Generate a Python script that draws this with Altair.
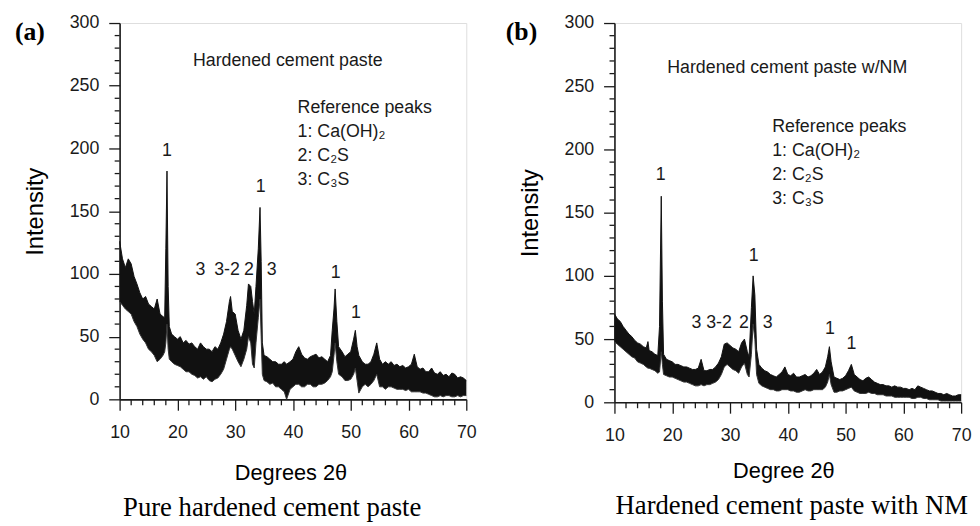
import altair as alt
import pandas as pd

# ---------------- Panel (a): pure hardened cement paste ----------------
A_X = [10.0, 10.5, 11.0, 11.5, 12.0, 12.5, 13.0, 13.5, 14.0, 14.5, 15.0, 15.5, 16.0, 16.5, 17.0, 17.5, 17.8,
       18.0, 18.2, 18.4, 18.6, 19.0, 19.5, 20.0, 20.5, 21.0, 21.5, 22.0, 22.5, 23.0, 23.5, 24.0, 24.5, 25.0,
       25.5, 26.0, 26.5, 27.0, 27.5, 28.0, 28.5, 29.0, 29.2, 29.5, 30.0, 30.5, 31.0, 31.5, 32.0, 32.3, 32.7,
       33.0, 33.3, 33.6, 34.0, 34.3, 34.5, 34.7, 35.0, 35.5, 36.0, 36.5, 37.0, 37.5, 38.0, 38.5, 38.9, 39.5,
       40.0, 40.5, 41.0, 41.5, 42.0, 42.5, 43.0, 43.5, 44.0, 44.5, 45.0, 45.5, 46.0, 46.5, 46.8, 47.1, 47.3,
       47.6, 47.9, 48.5, 49.0, 49.5, 50.0, 50.5, 50.8, 51.1, 51.4, 52.0, 52.5, 53.0, 53.5, 54.0, 54.5, 55.0,
       55.5, 56.0, 56.5, 57.0, 57.5, 58.0, 58.5, 59.0, 59.5, 60.0, 60.5, 61.0, 61.5, 62.0, 62.5, 63.0, 63.5,
       64.0, 64.5, 65.0, 65.5, 66.0, 66.5, 67.0, 67.5, 68.0, 68.5, 69.0, 69.5, 70.0]
A_LO = [78, 75, 72, 70, 68, 62, 58, 52, 48, 45, 40, 38, 35, 30, 32, 35, 38,
        45, 60, 40, 32, 30, 28, 27, 26, 24, 22, 22, 20, 19, 17, 18, 16, 18,
        15, 14, 16, 17, 20, 24, 32, 40, 42, 40, 35, 30, 26, 32, 40, 50, 45,
        28, 25, 45, 65, 80, 50, 20, 15, 14, 12, 13, 10, 10, 8, 6, 0, 8,
        10, 12, 12, 10, 10, 12, 12, 10, 10, 12, 12, 13, 15, 18, 22, 35, 45,
        30, 20, 18, 15, 15, 16, 20, 25, 15, 5, 10, 12, 10, 12, 15, 20, 10,
        10, 8, 10, 10, 9, 8, 8, 8, 7, 8, 6, 6, 6, 6, 5, 5, 4,
        3, 2, 2, 3, 2, 3, 3, 2, 2, 3, 2, 3, 3]
A_HI = [126, 112, 105, 112, 108, 98, 92, 85, 80, 82, 76, 74, 72, 80, 68, 66, 65,
        120, 182, 90, 58, 52, 50, 48, 50, 45, 47, 44, 45, 42, 40, 45, 42, 40,
        40, 38, 42, 40, 45, 52, 62, 78, 82, 70, 68, 55, 48, 55, 75, 92, 90,
        78, 68, 90, 120, 153, 110, 45, 35, 34, 32, 30, 30, 28, 28, 30, 28, 30,
        32, 38, 42, 36, 33, 32, 34, 35, 36, 33, 34, 32, 30, 35, 55, 72, 88,
        62, 42, 38, 34, 36, 38, 48, 55, 42, 35, 30, 28, 28, 30, 36, 45, 32,
        28, 30, 28, 30, 27, 28, 26, 27, 25, 26, 28, 36, 26, 24, 25, 22, 22,
        25, 21, 20, 22, 19, 20, 18, 21, 20, 17, 18, 17, 15]

# ---------------- Panel (b): hardened cement paste with NM ----------------
B_X = [10.0, 10.5, 11.0, 11.5, 12.0, 12.5, 13.0, 13.5, 14.0, 14.5, 15.0, 15.5, 15.8, 16.0, 16.5, 17.0, 17.5,
       17.8, 18.1, 18.3, 18.5, 19.0, 19.5, 20.0, 20.5, 21.0, 21.5, 22.0, 22.5, 23.0, 23.5, 24.0, 24.5, 25.0,
       25.5, 26.0, 26.5, 27.0, 27.5, 28.0, 28.5, 29.0, 29.5, 30.0, 30.5, 31.0, 31.5, 32.0, 32.5, 33.0, 33.3,
       33.7, 34.0, 34.3, 34.6, 35.0, 35.5, 36.0, 36.5, 37.0, 37.5, 38.0, 38.5, 39.0, 39.5, 40.0, 40.5, 41.0,
       41.5, 42.0, 42.5, 43.0, 43.5, 44.0, 44.5, 45.0, 45.5, 46.0, 46.5, 46.9, 47.2, 47.5, 48.0, 48.5, 49.0,
       49.5, 50.0, 50.5, 51.0, 51.5, 52.0, 52.5, 53.0, 53.5, 54.0, 54.5, 55.0, 55.5, 56.0, 56.5, 57.0, 57.5,
       58.0, 58.5, 59.0, 59.5, 60.0, 60.5, 61.0, 61.5, 62.0, 62.5, 63.0, 63.5, 64.0, 64.5, 65.0, 65.5, 66.0,
       66.5, 67.0, 67.5, 68.0, 68.5, 69.0, 69.5, 70.0]
B_LO = [48, 46, 44, 42, 40, 38, 36, 35, 32, 31, 30, 28, 27, 27, 26, 25, 23,
        24, 40, 30, 22, 21, 20, 20, 19, 18, 17, 16, 16, 15, 14, 13, 13, 14,
        13, 14, 14, 15, 16, 18, 22, 28, 30, 28, 26, 25, 23, 28, 31, 22, 20,
        38, 62, 50, 22, 15, 13, 12, 11, 10, 10, 9, 9, 10, 10, 10, 9, 9,
        8, 8, 9, 10, 9, 9, 10, 10, 10, 10, 12, 16, 22, 14, 8, 8, 9,
        9, 10, 11, 12, 9, 8, 7, 7, 7, 8, 7, 7, 6, 6, 6, 5, 5,
        5, 4, 4, 4, 4, 4, 4, 3, 3, 4, 4, 3, 3, 2, 2, 2, 2,
        1, 1, 1, 1, 1, 1, 1, 1]
B_HI = [70, 66, 64, 60, 57, 54, 52, 49, 47, 46, 44, 43, 48, 41, 40, 38, 37,
        60, 163, 80, 38, 34, 33, 32, 30, 30, 29, 28, 28, 27, 26, 26, 27, 34,
        25, 25, 26, 26, 28, 31, 36, 46, 47, 45, 43, 42, 40, 47, 50, 40, 36,
        75, 100, 85, 42, 30, 27, 25, 24, 22, 21, 20, 22, 24, 28, 22, 21, 23,
        20, 20, 21, 22, 20, 21, 23, 26, 22, 24, 28, 36, 44, 32, 20, 19, 18,
        19, 21, 25, 30, 22, 20, 18, 17, 19, 20, 18, 16, 15, 14, 14, 13, 13,
        12, 13, 12, 12, 11, 11, 10, 11, 10, 13, 12, 11, 10, 9, 9, 8, 7,
        7, 6, 7, 6, 5, 5, 6, 6]

# peak labels (text, x position in degrees, y position in intensity units)
A_PEAK_TEXT = ["1", "1", "3", "3-2", "2", "3", "1", "1"]
A_PEAK_X = [18.2, 34.4, 24.0, 28.6, 32.4, 36.3, 47.4, 50.9]
A_PEAK_Y = [198, 169, 103, 103, 103, 103, 101, 69]

B_PEAK_TEXT = ["1", "1", "3", "3-2", "2", "3", "1", "1"]
B_PEAK_X = [18.0, 34.1, 24.2, 28.1, 32.4, 36.5, 47.3, 51.0]
B_PEAK_Y = [180, 116, 63, 63, 63, 63, 58, 46]

REF_LINES = ["Reference peaks", "1: Ca(OH)\u2082", "2: C\u2082S", "3: C\u2083S"]
A_REF_X = 40.8
A_REF_Y = [232, 213, 194, 175]
B_REF_X = 37.3
B_REF_Y = [218, 199, 180, 161]

A_HEADER = "Hardened cement paste"
A_HEADER_POS = (39.1, 270)
B_HEADER = "Hardened cement paste w/NM"
B_HEADER_POS = (39.9, 264)

# axis tick positions
X_MAJOR = [10, 20, 30, 40, 50, 60, 70]
X_MINOR = [12, 14, 16, 18, 22, 24, 26, 28, 32, 34, 36, 38, 42, 44, 46, 48,
           52, 54, 56, 58, 62, 64, 66, 68]
Y_MAJOR = [0, 50, 100, 150, 200, 250, 300]
Y_MINOR = [10, 20, 30, 40, 60, 70, 80, 90, 110, 120, 130, 140, 160, 170, 180, 190,
           210, 220, 230, 240, 260, 270, 280, 290]

SANS = "Liberation Sans"
SERIF = "Liberation Serif"
INK = "#1a1a1a"


def panel(xs, lo, hi, pk_text, pk_x, pk_y, ref_x, ref_y, header, header_pos,
          letter, xtitle, caption, height, xtitle_x, xtitle_y, cap_dx, letter_dx):
    df = pd.DataFrame({"x": xs, "lo": lo, "hi": hi})
    xscale = alt.Scale(domain=[10, 70], nice=False, zero=False)
    yscale = alt.Scale(domain=[0, 300], nice=False, zero=False)
    xaxis = alt.Axis(
        values=X_MAJOR, tickSize=11,
        tickColor=INK, tickWidth=1.3, domainColor=INK, domainWidth=1.6,
        labelFont=SANS, labelFontSize=18, labelColor=INK, labelPadding=14,
        labelFlush=False, labelOverlap=False,
        title=xtitle, titleFont=SANS, titleFontSize=22, titleFontWeight="normal",
        titleColor="black", titleX=xtitle_x, titleY=xtitle_y,
        titleBaseline="middle", titleAlign="center", grid=False,
    )
    yaxis = alt.Axis(
        values=Y_MAJOR, tickSize=11,
        tickColor=INK, tickWidth=1.3, domainColor=INK, domainWidth=1.6,
        labelFont=SANS, labelFontSize=18, labelColor=INK, labelPadding=10,
        labelFlush=False, labelOverlap=False,
        title="Intensity", titleFont=SANS, titleFontSize=24, titleFontWeight="normal",
        titleColor="black", titleX=-85, titleY=height / 2, titleAngle=270,
        titleBaseline="middle", titleAlign="center", grid=False,
    )
    band = alt.Chart(df).mark_area(color="#111111", opacity=1, interpolate="linear").encode(
        x=alt.X("x:Q", scale=xscale, axis=xaxis),
        y=alt.Y("lo:Q", scale=yscale, axis=yaxis),
        y2="hi:Q",
    )
    top = alt.Chart(df).mark_line(color="#111111", strokeWidth=1).encode(
        x=alt.X("x:Q", scale=xscale), y=alt.Y("hi:Q", scale=yscale))
    bot = alt.Chart(df).mark_line(color="#333333", strokeWidth=1).encode(
        x=alt.X("x:Q", scale=xscale), y=alt.Y("lo:Q", scale=yscale))

    ymin = alt.Chart(pd.DataFrame({"v": Y_MINOR})).mark_rule(color=INK, strokeWidth=1.3).encode(
        y=alt.Y("v:Q", scale=yscale), x=alt.value(-5), x2=alt.value(0))
    xmin = alt.Chart(pd.DataFrame({"v": X_MINOR})).mark_rule(color=INK, strokeWidth=1.3).encode(
        x=alt.X("v:Q", scale=xscale), y=alt.value(height), y2=alt.value(height + 6))

    pk = pd.DataFrame({"t": pk_text, "x": pk_x, "y": pk_y})
    peaks = alt.Chart(pk).mark_text(font=SANS, fontSize=18, color=INK, baseline="middle").encode(
        x=alt.X("x:Q", scale=xscale), y=alt.Y("y:Q", scale=yscale), text="t:N")

    rf = pd.DataFrame({"t": REF_LINES, "x": [ref_x] * 4, "y": ref_y})
    refs = alt.Chart(rf).mark_text(font=SANS, fontSize=18, color=INK, align="left",
                                    baseline="middle").encode(
        x=alt.X("x:Q", scale=xscale), y=alt.Y("y:Q", scale=yscale), text="t:N")

    hd = pd.DataFrame({"t": [header], "x": [header_pos[0]], "y": [header_pos[1]]})
    head = alt.Chart(hd).mark_text(font=SANS, fontSize=18, color=INK, align="center",
                                    baseline="middle").encode(
        x=alt.X("x:Q", scale=xscale), y=alt.Y("y:Q", scale=yscale), text="t:N")

    lt = pd.DataFrame({"t": [letter]})
    let = alt.Chart(lt).mark_text(font=SERIF, fontSize=26, fontWeight="bold", color="black",
                                   align="left", baseline="middle").encode(
        x=alt.value(letter_dx), y=alt.value(9), text="t:N")

    return alt.layer(band, top, bot, ymin, xmin, peaks, refs, head, let).properties(
        width=351, height=height,
        title=alt.TitleParams(text=caption, orient="bottom", font=SERIF, fontSize=27,
                              fontWeight="normal", color="black", anchor="middle",
                              frame="group", dx=cap_dx, offset=12),
    )


pa = panel(A_X, A_LO, A_HI, A_PEAK_TEXT, A_PEAK_X, A_PEAK_Y, A_REF_X, A_REF_Y,
           A_HEADER, A_HEADER_POS, "(a)", "Degrees 2\u03b8", "Pure hardened cement paste",
           381, 173, 74, -21, -106)
pb = panel(B_X, B_LO, B_HI, B_PEAK_TEXT, B_PEAK_X, B_PEAK_Y, B_REF_X, B_REF_Y,
           B_HEADER, B_HEADER_POS, "(b)", "Degree 2\u03b8", "Hardened cement paste with NM",
           384, 171, 69, 4, -110)

chart = alt.hconcat(pa, pb, spacing=28).properties(
    padding={"left": 6, "top": 2, "right": 0, "bottom": 0}
).configure_view(stroke=INK, strokeWidth=1.6).configure(background="white")

chart.save("out.html", embed_options={"renderer": "svg", "actions": False})
